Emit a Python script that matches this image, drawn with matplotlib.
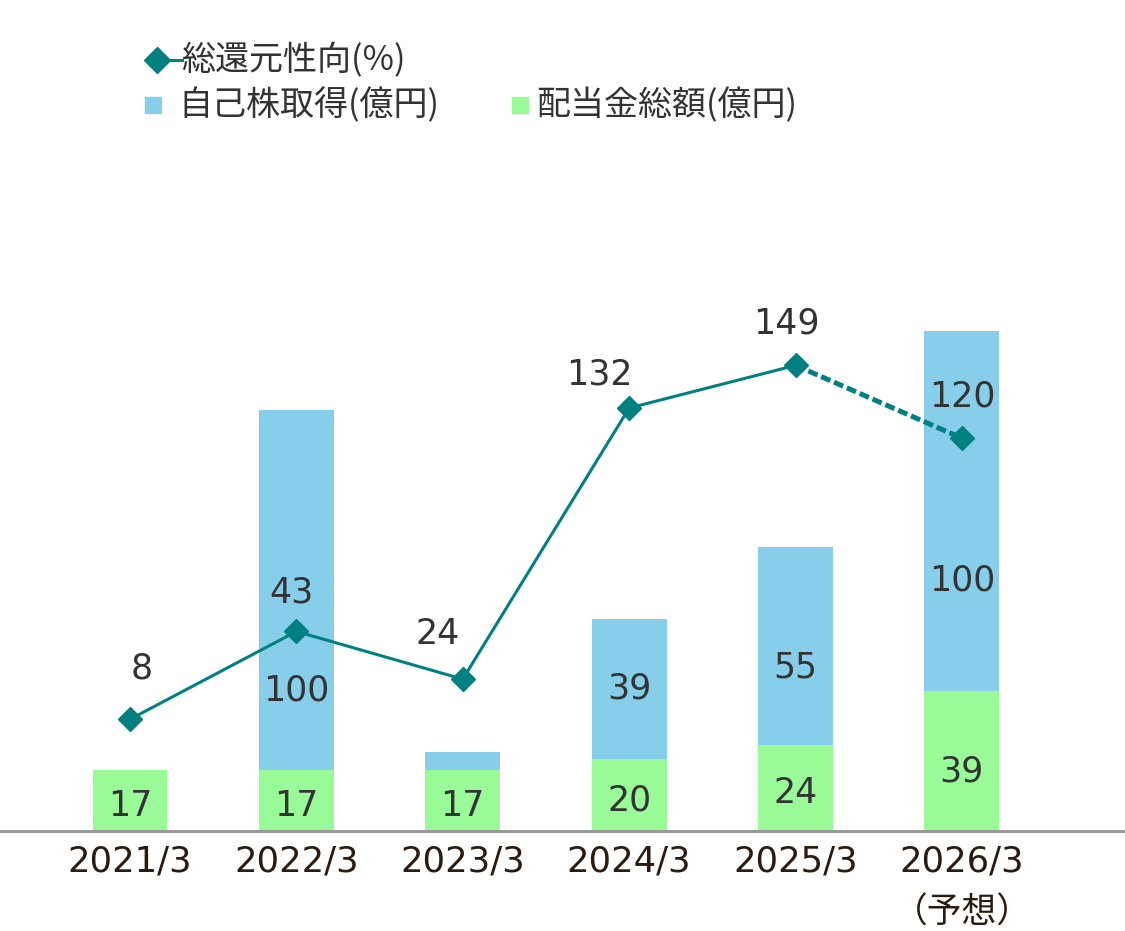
import matplotlib
matplotlib.use("Agg")
import matplotlib.pyplot as plt
from matplotlib.lines import Line2D
import numpy as np

# data
years = ["2021/3", "2022/3", "2023/3", "2024/3", "2025/3", "2026/3"]
forecast_note = "（予想）"
dividend = [17, 17, 17, 20, 24, 39]          # 配当金総額(億円)
buyback = [0, 100, 5, 39, 55, 100]           # 自己株取得(億円)
buyback_labels = ["", "100", "", "39", "55", "100"]
payout = [8, 43, 24, 132, 149, 120]          # 総還元性向(%)

# styling
C_GREEN = "#98FB98"
C_BLUE = "#87CEEB"
C_LINE = "#008080"
C_TEXT = "#333333"
C_TICK = "#2B1B0E"
FONT = ["DejaVu Sans", "Noto Sans CJK JP"]
JP = ["Noto Sans CJK JP", "DejaVu Sans"]
plt.rcParams["font.family"] = FONT

W, H = 1125, 931
fig = plt.figure(figsize=(W / 100, H / 100), dpi=100)

base_px, top_px = 831, 150
ax = fig.add_axes([0, (H - base_px) / H, 1, (base_px - top_px) / H])
ax2 = ax.twinx()

x = np.arange(len(years)) * 1.0
ax.set_xlim(-0.781, 5.98)
ax.set_ylim(0, (base_px - top_px) / 3.6)
ax2.set_ylim(-36.5, 234.8)

ax.bar(x, dividend, width=0.45, color=C_GREEN, zorder=2)
ax.bar(x, buyback, width=0.45, bottom=dividend, color=C_BLUE, zorder=2)

# bar labels (positions tweaked to follow the original)
div_label_y = [d / 2 - 1.5 for d in dividend]
div_label_y[5] = 16.5
buy_label_y = [0, 39, 0, 39.5, 45.5, 69.7]
for i in range(len(years)):
    ax.text(x[i], div_label_y[i], str(dividend[i]), ha="center", va="center",
            fontsize=25, color=C_TEXT, zorder=5)
    if buyback_labels[i]:
        ax.text(x[i], buy_label_y[i], buyback_labels[i], ha="center", va="center",
                fontsize=25, color=C_TEXT, zorder=5)

# payout line: solid for actuals, dashed for forecast
ax2.plot(x[:5], payout[:5], color=C_LINE, lw=2.2, marker="D", ms=12.5, zorder=4)
ax2.plot(x[4:], payout[4:], color=C_LINE, lw=3.6, ls=(0, (2.0, 0.8)), zorder=3)
ax2.plot(x[5:], payout[5:], color=C_LINE, lw=0, marker="D", ms=12.5, zorder=4)

label_off = [(12, 51), (-5, 39), (-25, 45), (-30, 34), (-9, 42), (0, 42)]
for i, v in enumerate(payout):
    ax2.annotate(str(v), (x[i], v), xytext=label_off[i], textcoords="offset pixels",
                 ha="center", va="center", fontsize=25, color=C_TEXT, zorder=6)

# axes cosmetics
for a in (ax, ax2):
    for s in ("top", "right", "left"):
        a.spines[s].set_visible(False)
    a.set_yticks([])
ax2.spines["bottom"].set_visible(False)
ax.spines["bottom"].set_color("#999999")
ax.spines["bottom"].set_linewidth(2.2)
ax.set_xticks(x)
ax.set_xticklabels(years, fontsize=25.5, color=C_TICK)
ax.tick_params(axis="x", length=0, pad=10)
ax2.set_zorder(ax.get_zorder() + 1)
ax2.patch.set_visible(False)

# second line under the forecast year
ax.annotate(forecast_note, (x[5], 0), xytext=(0, -82), textcoords="offset pixels",
            ha="center", va="center", fontsize=25, color=C_TICK, family=JP,
            annotation_clip=False)

# legend drawn by hand
def fx(px):
    return px / W

def fy(py):
    return 1 - py / H

fig.add_artist(Line2D([fx(150), fx(182)], [fy(60), fy(60)], color=C_LINE, lw=2.2))
fig.add_artist(Line2D([fx(157)], [fy(60)], color=C_LINE, marker="D", ms=13))
fig.text(fx(181), fy(61), "総還元性向(%)", ha="left", va="center", fontsize=24.5,
         color=C_TEXT, family=JP)
fig.add_artist(Line2D([fx(153)], [fy(105)], color=C_BLUE, marker="s", ms=12, lw=0))
fig.text(fx(178), fy(106), "自己株取得(億円)", ha="left", va="center", fontsize=24.5,
         color=C_TEXT, family=JP)
fig.add_artist(Line2D([fx(520)], [fy(105)], color=C_GREEN, marker="s", ms=12, lw=0))
fig.text(fx(536), fy(106), "配当金総額(億円)", ha="left", va="center", fontsize=24.5,
         color=C_TEXT, family=JP)

fig.savefig("out.png", dpi=100, facecolor="white")
